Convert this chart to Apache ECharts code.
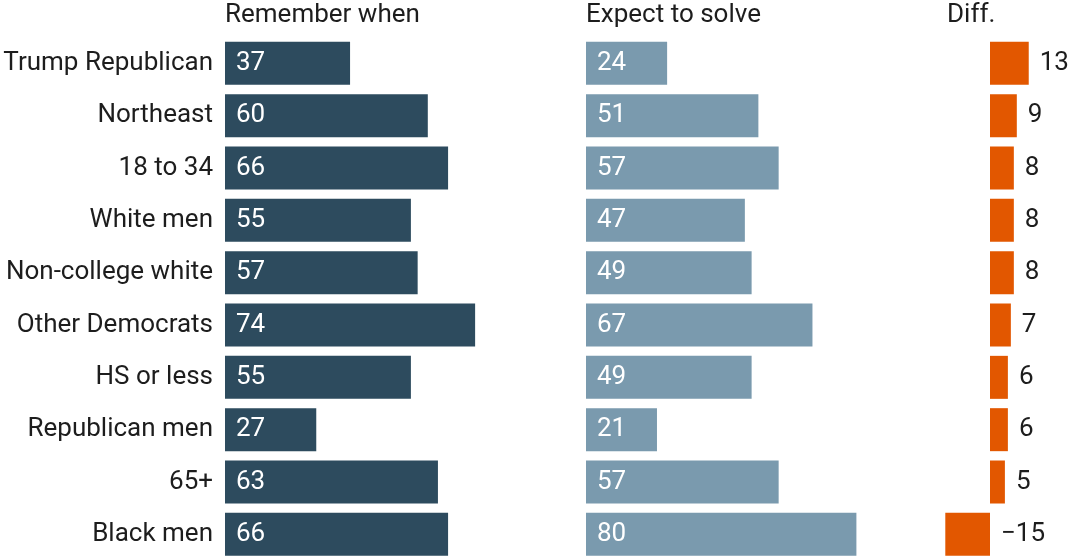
<!DOCTYPE html>
<html>
<head>
<meta charset="utf-8">
<script src="https://cdn.jsdelivr.net/npm/echarts@6/dist/echarts.min.js"></script>
<style>
  html, body { margin: 0; padding: 0; background: #fff; }
  #chart { width: 1071px; height: 556px; }
</style>
</head>
<body>
<div id="chart"></div>
<script>
// groups, top to bottom
var groups = ['Trump Republican', 'Northeast', '18 to 34', 'White men', 'Non-college white',
  'Other Democrats', 'HS or less', 'Republican men', '65+', 'Black men'];
var rememberWhen = [37, 60, 66, 55, 57, 74, 55, 27, 63, 66];
var expectToSolve = [24, 51, 57, 47, 49, 67, 49, 21, 57, 80];
var diff = [13, 9, 8, 8, 8, 7, 6, 6, 5, -15];
var panelTitles = ['Remember when', 'Expect to solve', 'Diff.'];

var font = 'Roboto';
var textColor = '#1d1d1d';
var fontSize = 26;

var myChart = echarts.init(document.getElementById('chart'));

function fmt(p) {
  var v = p.value;
  return v < 0 ? '\u2212' + Math.abs(v) : String(v);
}

var gridTop = 37.2, gridHeight = 523.3;

function yAxis(idx, showLabels) {
  return {
    type: 'category',
    gridIndex: idx,
    data: groups,
    inverse: true,
    axisLine: { show: false },
    axisTick: { show: false },
    splitLine: { show: false },
    axisLabel: {
      show: showLabels,
      margin: 12,
      fontFamily: font,
      fontSize: fontSize,
      color: textColor
    }
  };
}

function xAxis(idx, min, max) {
  return {
    type: 'value',
    gridIndex: idx,
    min: min,
    max: max,
    show: false
  };
}

function grid(left, width) {
  return { left: left, top: gridTop, width: width, height: gridHeight, outerBoundsMode: 'none' };
}

var option = {
  backgroundColor: '#fff',
  animation: false,
  title: [
    { text: panelTitles[0], left: 225, top: 2 },
    { text: panelTitles[1], left: 586, top: 2 },
    { text: panelTitles[2], left: 947, top: 2 }
  ].map(function (t) {
    t.padding = 0;
    t.textStyle = { fontFamily: font, fontSize: fontSize, fontWeight: 'normal', color: textColor };
    return t;
  }),
  grid: [grid(225, 338), grid(586, 338), grid(945.3, 119.2)],
  xAxis: [xAxis(0, 0, 100), xAxis(1, 0, 100), xAxis(2, -15, 25)],
  yAxis: [yAxis(0, true), yAxis(1, false), yAxis(2, false)],
  series: [
    {
      type: 'bar', xAxisIndex: 0, yAxisIndex: 0,
      data: rememberWhen, barWidth: 43,
      itemStyle: { color: '#2d4b5e' },
      label: { show: true, position: 'insideLeft', distance: 11, formatter: fmt,
        fontFamily: font, fontSize: fontSize, color: '#fff' }
    },
    {
      type: 'bar', xAxisIndex: 1, yAxisIndex: 1,
      data: expectToSolve, barWidth: 43,
      itemStyle: { color: '#7a9aae' },
      label: { show: true, position: 'insideLeft', distance: 11, formatter: fmt,
        fontFamily: font, fontSize: fontSize, color: '#fff' }
    },
    {
      type: 'bar', xAxisIndex: 2, yAxisIndex: 2,
      data: diff, barWidth: 43,
      itemStyle: { color: '#e25700' },
      label: { show: true, position: 'right', distance: 11, formatter: fmt,
        fontFamily: font, fontSize: fontSize, color: textColor }
    }
  ]
};

myChart.setOption(option);
</script>
</body>
</html>
